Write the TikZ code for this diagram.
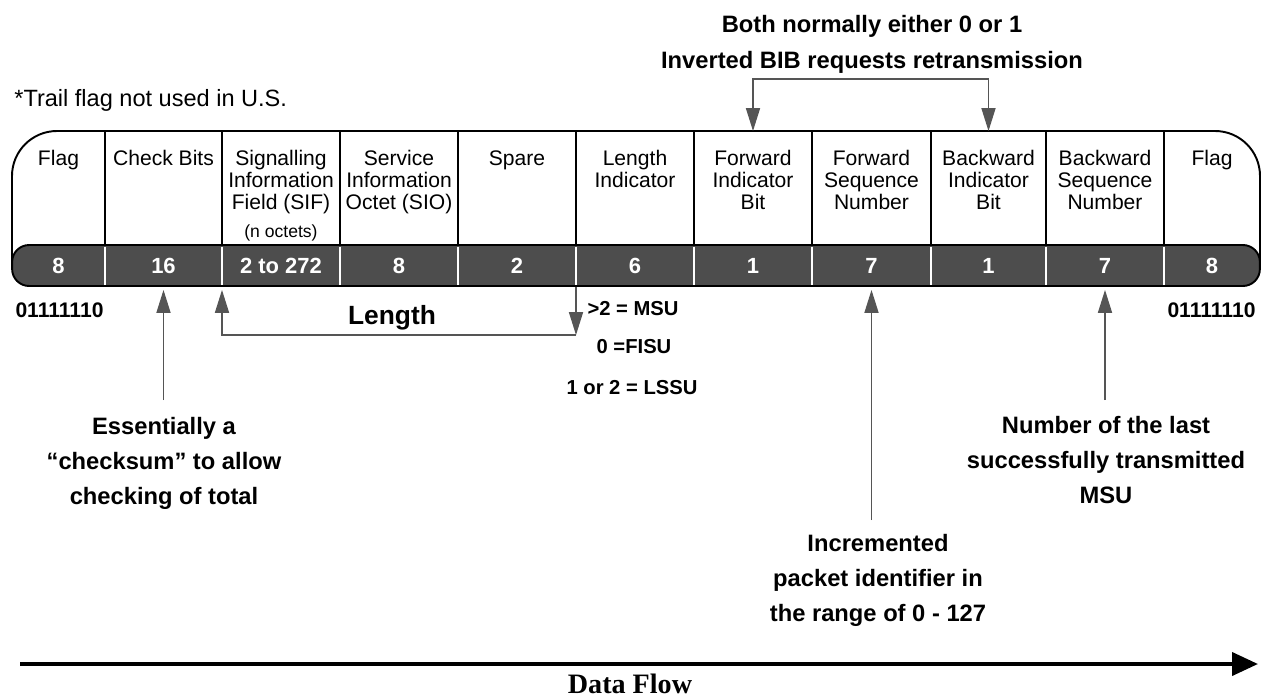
\documentclass[tikz,border=0pt]{standalone}
\usepackage{fontspec}
\setmainfont{Liberation Sans}
\newfontfamily\flowfont{Liberation Serif}
\usetikzlibrary{arrows.meta}
\definecolor{bargray}{HTML}{4D4D4D}
\definecolor{ptrgray}{HTML}{555555}

\begin{document}
\begin{tikzpicture}[x=0.02cm, y=-0.02cm,
  >={Triangle[length=13pt, width=8pt]},
  hdr/.style={anchor=north, align=center, inner sep=0pt, font=\fontsize{12}{12.5}\selectfont},
  num/.style={text=white, inner sep=0pt, font=\fontsize{12.5}{14}\selectfont\bfseries},
  note/.style={anchor=north, align=center, inner sep=0pt, font=\fontsize{13.5}{20}\selectfont\bfseries},
  code/.style={inner sep=0pt, font=\fontsize{11.5}{13}\selectfont\bfseries},
  ptr/.style={color=ptrgray, line width=0.7pt}]
  \useasboundingbox (0,0) rectangle (1265,700);
  % outer frame and octet bar
  \draw[line width=1.1pt, rounded corners=0.9cm] (12,266) -- (12,131) -- (1260,131) -- (1260,266);
  \node[draw, line width=1.1pt, fill=bargray, rounded corners=0.34cm, inner sep=0pt,
        minimum width=24.96cm, minimum height=0.82cm] (bar) at (636,265.5) {};
  \coordinate (top) at (0,131);
  % field dividers
  \foreach \x [count=\i] in {105,222,340,458,576,694,812,931,1046,1164} {
    \draw[line width=1.1pt] (\x,131) -- (\x,245);
    \draw[white, line width=1.1pt] (\x,246.5) -- (\x,284.5);
    \coordinate (d\i) at (\x,131);
  }
  % field names and sizes
  \foreach \x/\t/\n [count=\i] in {
      58.5/Flag/8,
      163.5/Check Bits/16,
      281/{Signalling\\Information\\Field (SIF)}/2 to 272,
      399/{Service\\Information\\Octet (SIO)}/8,
      517/Spare/2,
      635/{Length\\Indicator}/6,
      753/{Forward\\Indicator\\Bit}/1,
      871.5/{Forward\\Sequence\\Number}/7,
      988.5/{Backward\\Indicator\\Bit}/1,
      1105/{Backward\\Sequence\\Number}/7,
      1212/Flag/8} {
    \node[hdr] (h\i) at (\x,150) {\t};
    \node[num] (n\i) at (\x,265.5) {\n};
  }
  \node[inner sep=0pt, font=\fontsize{10}{12}\selectfont] (oct) at (281,233) {(n octets)};
  % notes above the frame
  \node[anchor=west, inner sep=0pt, font=\fontsize{13.4}{15}\selectfont] (trail) at (14,100) {*Trail flag not used in U.S.};
  \node[note, font=\fontsize{13.5}{20.4}\selectfont\bfseries] (bibnote) at (872,15)
    {Both normally either 0 or 1\\Inverted BIB requests retransmission};
  \coordinate (fibT) at (753,79);
  \coordinate (bibT) at (988.5,79);
  \draw[ptr, <->] (h7 |- top) -- (fibT) -- (bibT) -- (h9 |- top);
  % flag patterns
  \node[code, font=\fontsize{12}{14}\selectfont\bfseries] (flagL) at (59.5,310) {01111110};
  \node[code, font=\fontsize{12}{14}\selectfont\bfseries] (flagR) at (1211.5,310) {01111110};
  % length bracket
  \coordinate (lenL) at (222,335);
  \coordinate (lenR) at (576,335);
  \draw[ptr, ->] (d5 |- bar.south) -- (lenR);
  \draw[ptr, ->, shorten >=0.06cm] (lenR) -- (lenL) -- (d2 |- bar.south);
  \node[inner sep=0pt, font=\fontsize{15}{17}\selectfont\bfseries] (len) at (392,318) {Length};
  \node[code] (li1) at (633,309) {>2 = MSU};
  \node[code] (li2) at (634,347) {0 =FISU};
  \node[code] (li3) at (632,388) {1 or 2 = LSSU};
  % notes below the bar
  \node[note] (chk) at (164,417) {Essentially a\\“checksum” to allow\\checking of total};
  \node[note] (fsn) at (878,534) {Incremented\\packet identifier in\\the range of 0 - 127};
  \node[note] (bsn) at (1106,416) {Number of the last\\successfully transmitted\\MSU};
  \draw[ptr, ->, shorten <=0.34cm, shorten >=0.06cm] (chk.north -| h2) -- (h2 |- bar.south);
  \draw[ptr, ->, shorten <=0.28cm, shorten >=0.06cm] (fsn.north -| h8) -- (h8 |- bar.south);
  \draw[ptr, ->, shorten <=0.32cm, shorten >=0.06cm] (bsn.north -| h10) -- (h10 |- bar.south);
  % data flow
  \coordinate (flowA) at (20,664);
  \coordinate (flowB) at (1258,664);
  \draw[line width=2.3pt, -{Triangle[length=0.52cm, width=0.46cm]}] (flowA) -- (flowB);
  \node[inner sep=0pt, font=\fontsize{16}{18}\flowfont\bfseries] (flow) at (630,684) {Data Flow};
\end{tikzpicture}
\end{document}
